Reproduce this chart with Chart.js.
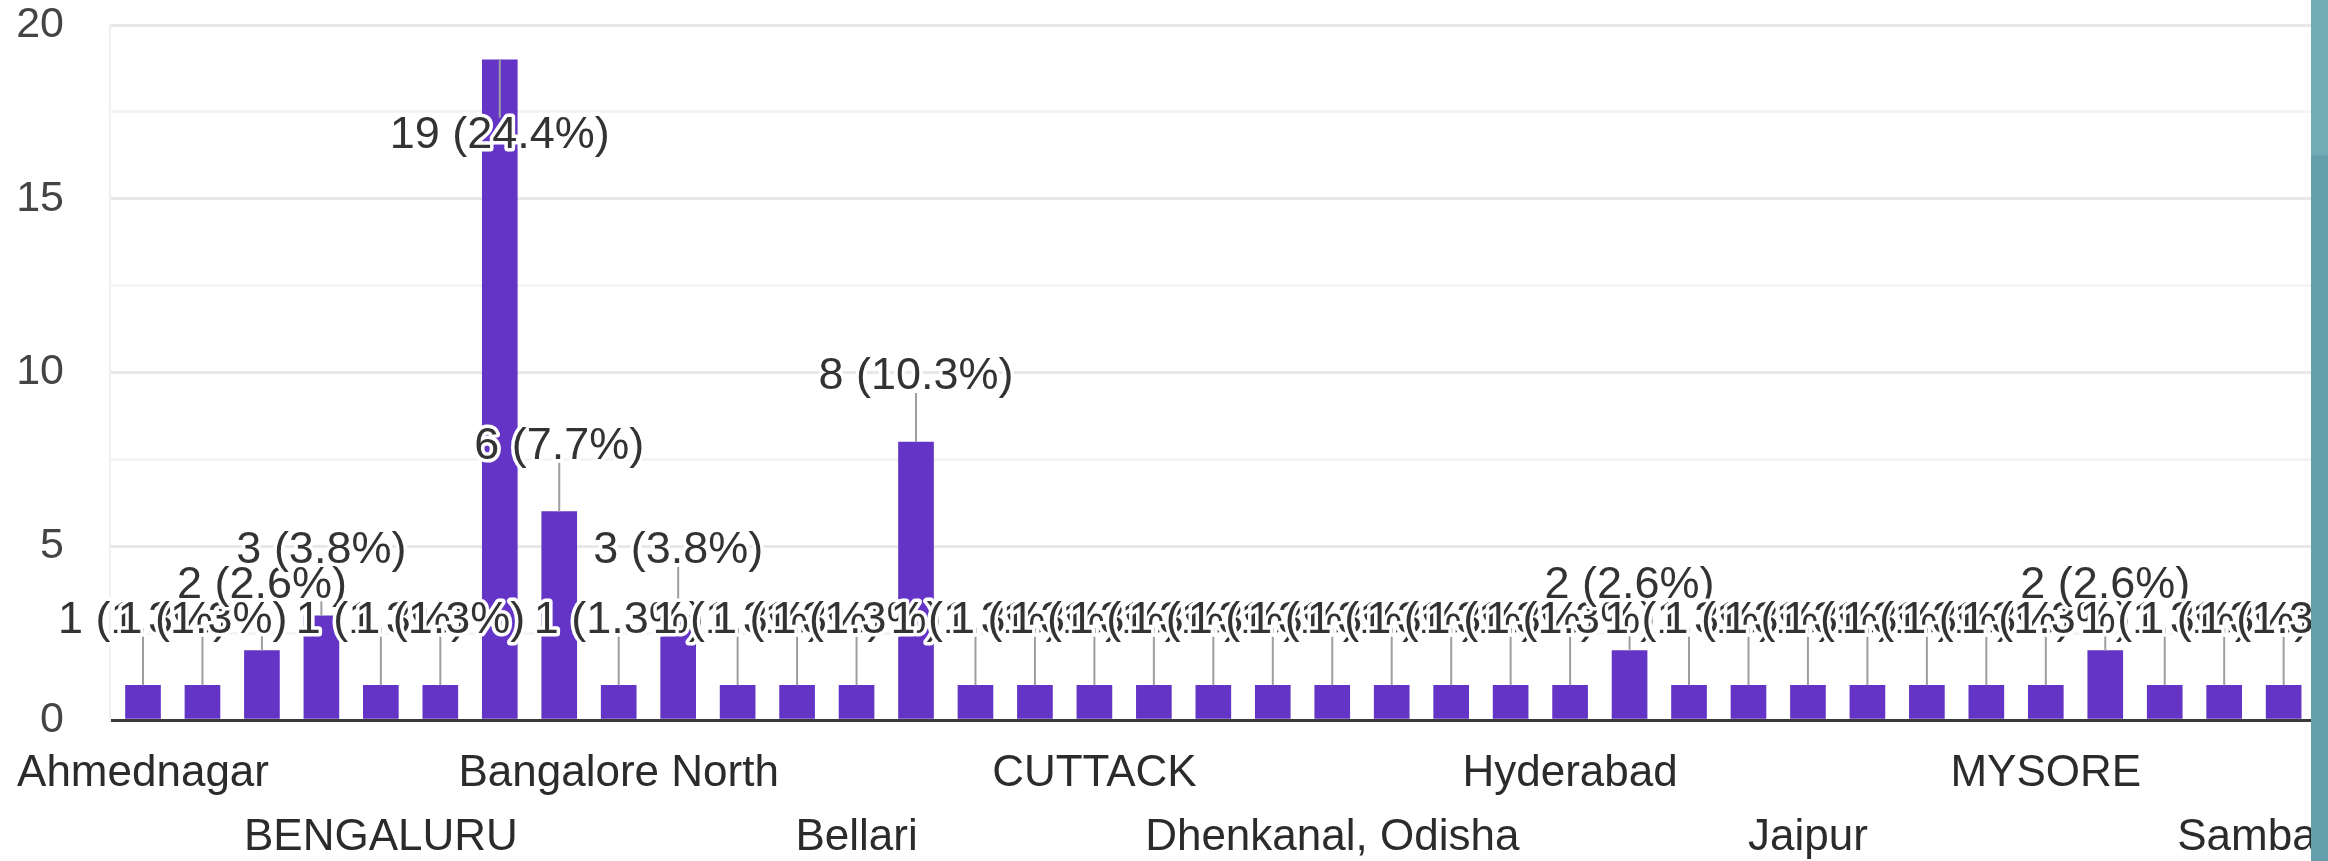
<!DOCTYPE html>
<html>
<head>
<meta charset="utf-8">
<script src="https://cdn.jsdelivr.net/npm/chart.js@4.4.1/dist/chart.umd.min.js"></script>
<style>
  html, body { margin: 0; padding: 0; background: #fff; }
  #wrap { position: relative; width: 2328px; height: 861px; overflow: hidden; }
  #edge {
    position: absolute; left: 2311px; top: 0; width: 17px; height: 861px;
    background: linear-gradient(to bottom, #73abb4 0, #73abb4 154px, #63a0ab 157px, #63a0ab 100%);
  }
</style>
</head>
<body>
<div id="wrap">
  <canvas id="graph1" width="2328" height="861"></canvas>
  <div id="edge"></div>
</div>
<script>
// Réponses par ville (ordre du graphique, tri ASCII)
const cities = [
  'Ahmednagar', 'Anand', 'BANGALORE', 'BANGALURU', 'BENGALURU', 'BIDAR',
  'Bangalore', 'Bangalore Karnataka', 'Bangalore North', 'Bangalore Urban',
  'Belagavi', 'Belgaum', 'Bellari', 'Bengaluru', 'Bhubaneswar', 'Bidar',
  'CUTTACK', 'Chennai', 'Chikkamagaluru', 'Davangere', 'Dhenkanal, Odisha',
  'Gadag', 'Gulbarga', 'Hassan', 'Hyderabad', 'Hyderabad, Telangana',
  'Indore', 'JAIPUR', 'Jaipur', 'KOLAR', 'Kolkata', 'Lucknow', 'MYSORE',
  'Mangalore', 'Mumbai', 'Mysore', 'Sambalpur'
];
const counts = [
  1, 1, 2, 3, 1, 1,
  19, 6, 1, 3,
  1, 1, 1, 8, 1, 1,
  1, 1, 1, 1, 1,
  1, 1, 1, 1, 2,
  1, 1, 1, 1, 1, 1, 1,
  2, 1, 1, 1
];
const totalResponses = 78;
const yTicks = [0, 5, 10, 15, 20];

const FONT = '"Liberation Sans", Arial, sans-serif';

// Étiquettes "n (x%)" avec trait, comme dans Google Forms
const annotationPlugin = {
  id: 'barAnnotations',
  afterDatasetsDraw(chart) {
    const { ctx, chartArea } = chart;
    const meta = chart.getDatasetMeta(0);
    const items = meta.data.map((bar, i) => {
      const v = counts[i];
      const inside = bar.y - 66 - 22 < chartArea.top;
      const cy = inside ? bar.y + 76 : bar.y - 65;
      return { bar, v, cy, inside };
    });
    ctx.save();
    ctx.strokeStyle = '#9e9e9e';
    ctx.lineWidth = 2;
    items.forEach(it => {
      ctx.beginPath();
      ctx.moveTo(it.bar.x, it.bar.y);
      ctx.lineTo(it.bar.x, it.inside ? it.cy - 18 : it.cy + 16);
      ctx.stroke();
    });
    ctx.font = '45px ' + FONT;
    ctx.textAlign = 'center';
    ctx.textBaseline = 'middle';
    ctx.lineJoin = 'round';
    items.forEach(it => {
      const text = it.v + ' (' + (it.v / totalResponses * 100).toFixed(1) + '%)';
      ctx.lineWidth = 7;
      ctx.strokeStyle = '#ffffff';
      ctx.strokeText(text, it.bar.x, it.cy);
      ctx.fillStyle = '#333333';
      ctx.fillText(text, it.bar.x, it.cy);
    });
    ctx.restore();
  }
};

const canvasElement = document.getElementById('graph1');

new Chart(canvasElement, {
  type: 'bar',
  data: {
    datasets: [{
      data: counts.map((v, i) => ({ x: i, y: v })),
      backgroundColor: '#6334c5',
      borderWidth: 0,
      barThickness: 35,
    }],
  },
  options: {
    responsive: false,
    animation: false,
    devicePixelRatio: 1,
    layout: { padding: { top: 25, right: 17, bottom: 0, left: 0 } },
    plugins: {
      legend: { display: false },
      tooltip: { enabled: false },
    },
    scales: {
      x: {
        type: 'linear',
        offset: false,
        min: -0.555,
        max: 36.46,
        afterBuildTicks: (scale) => {
          scale.ticks = cities.map((_, i) => ({ value: i }));
        },
        afterFit: (scale) => {
          scale.height = 141;
          scale.paddingLeft = 0;
          scale.paddingRight = 0;
        },
        grid: { display: false, drawTicks: false },
        border: { display: true, color: '#3a3a3a', width: 3 },
        ticks: {
          autoSkip: false,
          maxRotation: 0,
          minRotation: 0,
          padding: 22,
          color: '#2b2b2b',
          font: { family: FONT, size: 44, lineHeight: '64px' },
          callback: (value) => {
            if (value % 4 !== 0) return '';
            const name = cities[value];
            return (value / 4) % 2 === 0 ? [name] : ['', name];
          },
        },
      },
      y: {
        min: 0,
        max: 20,
        afterBuildTicks: (scale) => {
          const t = [];
          for (let v = 0; v <= 20; v += 2.5) t.push({ value: v });
          scale.ticks = t;
        },
        afterFit: (scale) => {
          scale.width = 110;
          scale.paddingTop = 0;
          scale.paddingBottom = 0;
        },
        grid: {
          drawTicks: false,
          lineWidth: 3,
          color: (ctx) => (ctx.tick && ctx.tick.value % 5 === 0 ? '#e8e8e8' : '#f4f4f4'),
        },
        border: { display: true, color: '#f0f0f0', width: 2 },
        ticks: {
          padding: 46,
          color: '#444444',
          font: { family: FONT, size: 43 },
          callback: (value) => (yTicks.includes(value) ? String(value) : ''),
        },
      },
    },
  },
  plugins: [annotationPlugin],
});
</script>
</body>
</html>
